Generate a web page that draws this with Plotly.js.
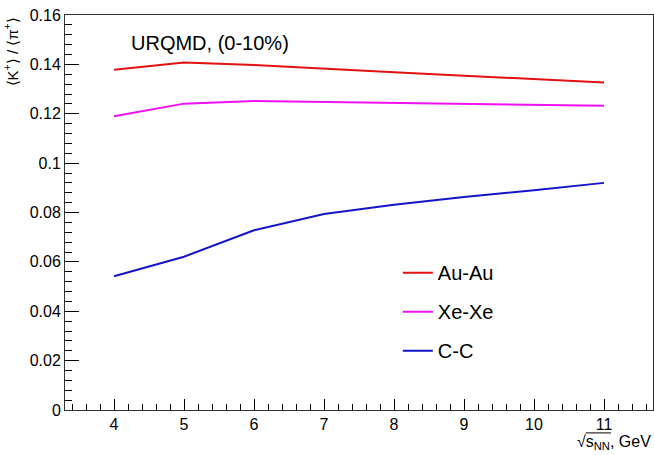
<!DOCTYPE html>
<html>
<head>
<meta charset="utf-8">
<script src="https://cdn.plot.ly/plotly-3.0.1.min.js"></script>
<style>
html,body{margin:0;padding:0;background:#fff;}
#chart{width:654px;height:455px;}
</style>
</head>
<body>
<div id="chart"></div>
<script>
const energies = [4, 5, 6, 7, 8, 9, 10, 11];
const auAu = [0.1378, 0.1408, 0.1397, 0.1384, 0.1368, 0.1354, 0.1339, 0.1327];
const xeXe = [0.1190, 0.1241, 0.1252, 0.1248, 0.1244, 0.1241, 0.1237, 0.1232];
const cC   = [0.0542, 0.0621, 0.0728, 0.0794, 0.0831, 0.0863, 0.0890, 0.0920];
const seriesNames = ["Au-Au", "Xe-Xe", "C-C"];
const seriesColors = ["#e01212", "#f010f0", "#1515c8"];
const yTickVals = [0, 0.02, 0.04, 0.06, 0.08, 0.1, 0.12, 0.14, 0.16];
const yTickText = ["0", "0.02", "0.04", "0.06", "0.08", "0.1", "0.12", "0.14", "0.16"];
const xTickVals = [4, 5, 6, 7, 8, 9, 10, 11];

const font = "Liberation Sans, Arial, sans-serif";
const data = [auAu, xeXe, cC].map((ys, i) => ({
  x: energies, y: ys, type: "scatter", mode: "lines",
  name: seriesNames[i], legendgroup: "g" + i,
  line: {color: seriesColors[i], width: 2}
}));

const layout = {
  width: 654, height: 455,
  margin: {l: 65, r: 1, t: 15, b: 45},
  paper_bgcolor: "#fff", plot_bgcolor: "#fff",
  font: {family: font, color: "#000", size: 16},
  showlegend: true,
  legend: {x: 0.566, y: 0.397, xanchor: "left", yanchor: "top",
           bgcolor: "rgba(0,0,0,0)", font: {size: 20, family: font},
           tracegroupgap: 10, itemwidth: 30},
  xaxis: {range: [3.3, 11.7], tickvals: xTickVals, ticks: "inside", ticklen: 11,
          tickcolor: "#000", linecolor: "#333", linewidth: 1, mirror: true,
          showgrid: false, zeroline: false, tickfont: {size: 16},
          minor: {dtick: 0.2, ticks: "inside", ticklen: 6, tickcolor: "#000", showgrid: false}},
  yaxis: {range: [0, 0.16], tickvals: yTickVals, ticktext: yTickText, ticks: "inside", ticklen: 14,
          tickcolor: "#000", linecolor: "#333", linewidth: 1, mirror: true,
          showgrid: false, zeroline: false, tickfont: {size: 16},
          minor: {dtick: 0.004, ticks: "inside", ticklen: 7, tickcolor: "#000", showgrid: false}},
  shapes: [
    {type: "line", xref: "paper", yref: "paper", x0: 0.8855, x1: 0.9285, y0: -0.058, y1: -0.058,
     line: {color: "#000", width: 1}}
  ],
  annotations: [
    {text: "URQMD, (0-10%)", xref: "paper", yref: "paper", x: 0.108, y: 0.928,
     xanchor: "left", yanchor: "middle", showarrow: false, font: {size: 20}},
    {text: "⟨K<sup>+</sup>⟩ / ⟨π<sup>+</sup>⟩", xref: "paper", yref: "paper", x: -0.092, y: 1.0,
     xanchor: "center", yanchor: "top", textangle: -90, showarrow: false, font: {size: 15}},
    {text: "√s<sub>NN</sub>, GeV", xref: "paper", yref: "paper", x: 1.0, y: -0.083,
     xanchor: "right", yanchor: "middle", showarrow: false, font: {size: 16}}
  ]
};
Plotly.newPlot("chart", data, layout, {displayModeBar: false, staticPlot: true});
</script>
</body>
</html>
